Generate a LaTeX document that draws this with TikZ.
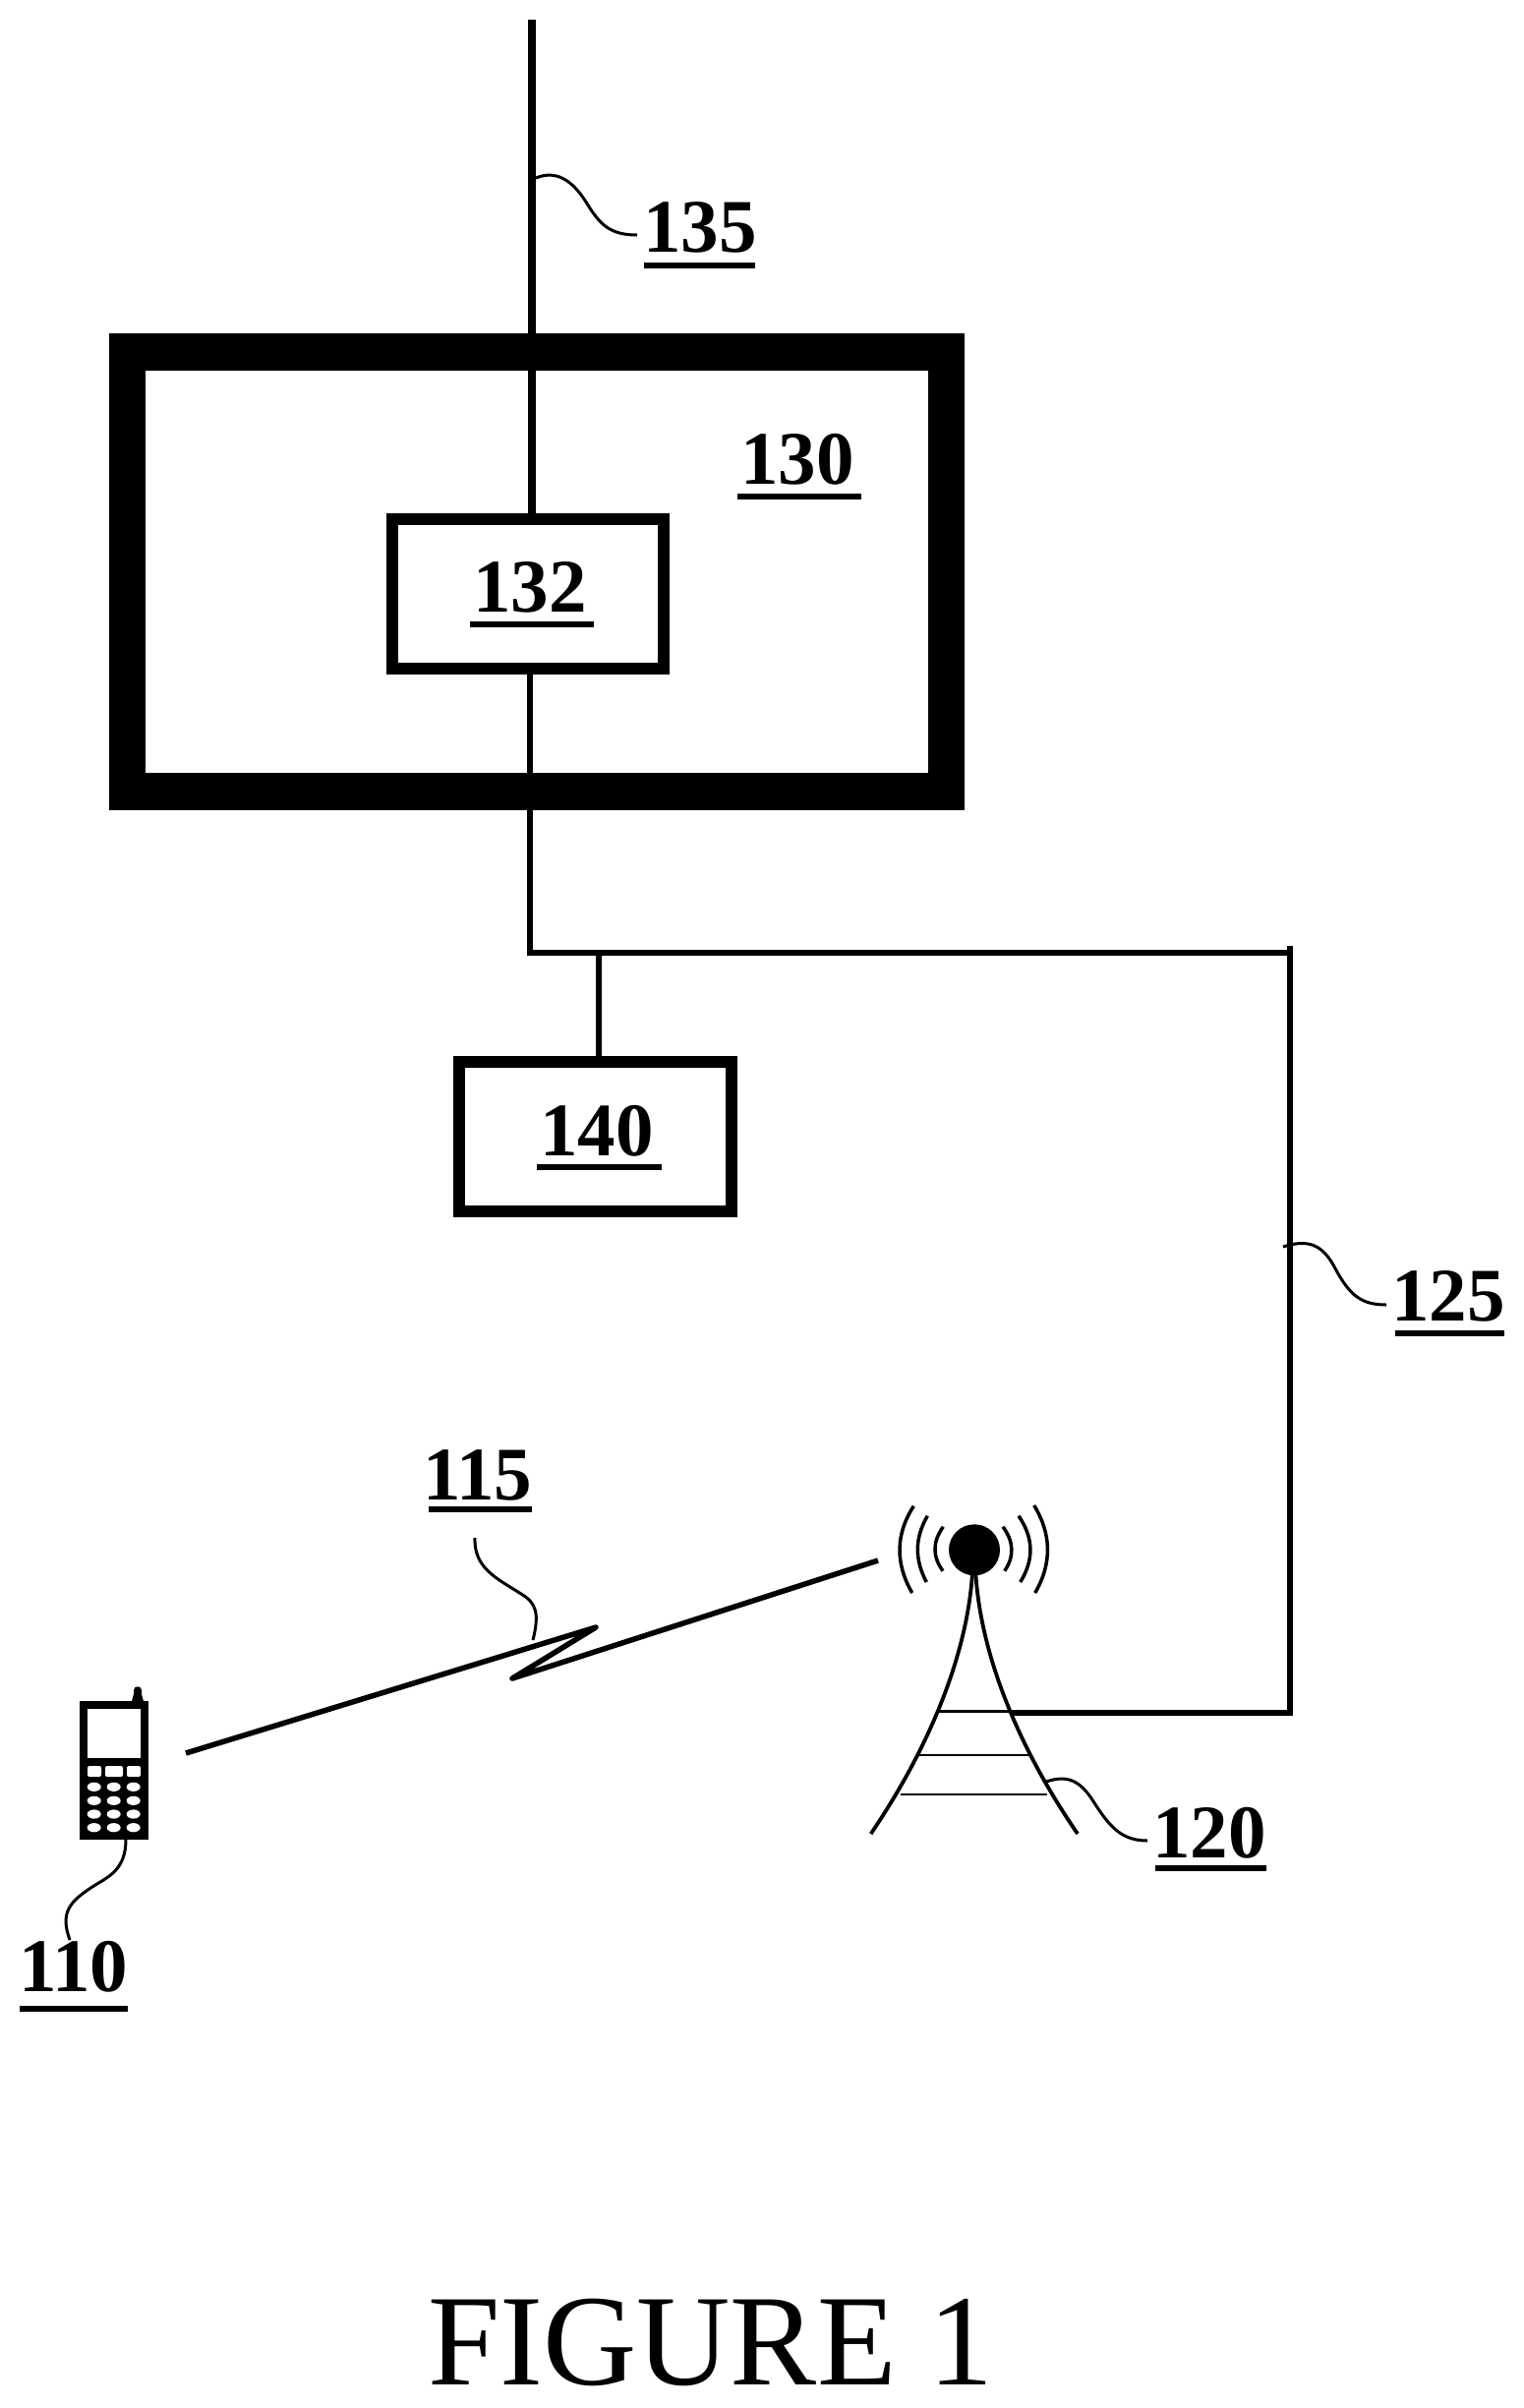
\documentclass[tikz,border=0pt]{standalone}
\usepackage{fontspec}
\setmainfont{Liberation Serif}
\newcommand{\reflab}[4]{\leavevmode\rlap{\hspace{#1}\rule[#2]{#3}{3pt}}#4}
\tikzset{
  boxnode/.style={draw=black,fill=none,rectangle,inner sep=0pt,outer sep=0pt},
  reflabel/.style={anchor=base west,inner sep=0pt,outer sep=0pt,text=black,font=\fontsize{38.5pt}{46pt}\selectfont\bfseries},
  figlabel/.style={anchor=base west,inner sep=0pt,outer sep=0pt,text=black,font=\fontsize{66pt}{78pt}\selectfont},
  wire/.style={draw=black,line width=3pt,line cap=butt,line join=miter},
  trunk/.style={draw=black,line width=3.75pt,line cap=butt},
  radio/.style={draw=black,line width=2.75pt,line join=round,line cap=butt},
  leader/.style={draw=black,line width=1.5pt,line cap=butt},
  towerleg/.style={draw=black,line width=1.9pt,line cap=butt},
  towerbar/.style={draw=black,line width=1.25pt,line cap=butt},
  wave/.style={draw=black,line width=1.75pt,line cap=butt},
  keypad/.style={fill=white,draw=none}
}
\begin{document}
\begin{tikzpicture}[x=0.5pt,y=-0.5pt]
\useasboundingbox[fill=white] (0,0) rectangle (1550,2449);

% boxes
\node[boxnode,line width=18.75pt,minimum width=416.5pt,minimum height=223.5pt] (b130) at (546,581.5) {};
\node[boxnode,line width=6pt,minimum width=138pt,minimum height=76pt] (b132) at (537,604) {};
\node[boxnode,line width=6pt,minimum width=138.5pt,minimum height=76pt] (b140) at (605.5,1156) {};

% named points
\coordinate (top) at (541,20);
\coordinate (J) at (539,969);
\coordinate (T) at (609,969);
\coordinate (R) at (1312,969);
\coordinate (Rup) at (1312,962);
\coordinate (Rdn) at (1312,1742);
\coordinate (towerjoin) at (1028,1742);

% wires
\draw[trunk] (top) -- (top |- b132.north);
\draw[wire] (J |- b132.south) -- (J) -- (R);
\draw[wire] (T) -- (T |- b140.north);
\draw[wire] (Rup) -- (Rdn) -- (towerjoin);

% phone
\node[fill=black,draw=none,rectangle,inner sep=0pt,outer sep=0pt,minimum width=35pt,minimum height=70.5pt] (phone) at (116,1800.5) {};
\fill[black] (134,1730) -- (136,1723) -- (136,1719) .. controls (136,1714) and (144,1714) .. (144,1719) -- (144,1723) -- (146,1730) -- cycle;
\fill[white] (89,1738) rectangle (143.3,1788);
\fill[keypad,rounded corners=1pt] (89,1796) rectangle (103,1807);
\fill[keypad,rounded corners=1pt] (107,1796) rectangle (125,1807);
\fill[keypad,rounded corners=1pt] (129,1796) rectangle (143,1807);
\foreach \kx in {95.7,115.7,135.7}
  \foreach \ky in {1817.3,1831.3,1845,1858.7}
    \fill[keypad] (\kx,\ky) ellipse [x radius=7,y radius=4.6];

% tower
\node[circle,fill=black,draw=none,inner sep=0pt,outer sep=0pt,minimum size=26pt] (ant) at (991,1576.3) {};
\draw[towerleg] (989,1600) .. controls (983,1690) and (940,1785) .. (885.7,1865);
\draw[towerleg] (992.3,1600) .. controls (998,1690) and (1041,1785) .. (1096,1865);
\draw[towerbar] (955,1740.7) -- (1028,1740.7);
\draw[towerbar] (935,1785) -- (1047,1785);
\draw[towerbar] (916,1825) -- (1065,1825);
\draw[wave] (959.3,1552.7) .. controls (948.3,1568) and (948.2,1583) .. (959,1597.7);
\draw[wave] (943.3,1541.7) .. controls (930.3,1564) and (930,1586) .. (942.3,1609);
\draw[wave] (929.3,1531.7) .. controls (910.8,1560) and (910.3,1590) .. (927.7,1620);
\draw[wave] (1020,1552.7) .. controls (1031.3,1568) and (1031.7,1583) .. (1021.7,1597.7);
\draw[wave] (1036,1541.7) .. controls (1051.3,1564) and (1051.9,1586) .. (1037.7,1609);
\draw[wave] (1051.7,1531) .. controls (1069.5,1560) and (1070.2,1590) .. (1052.7,1620);

% radio link
\coordinate (rA) at (189,1783);
\coordinate (rB) at (606,1655);
\coordinate (rC) at (521,1707);
\coordinate (rD) at (893,1587);
\draw[radio] (rA) -- (rB) -- (rC) -- (rD);

% labels
\node[reflabel] (l135) at (654,256) {\reflab{0.5pt}{-8.5pt}{56.5pt}{135}};
\node[reflabel] (l130) at (753,492) {\reflab{-1.5pt}{-8pt}{63pt}{130}};
\node[reflabel] (l132) at (481,622) {\reflab{-1.5pt}{-8pt}{63pt}{132}};
\node[reflabel] (l140) at (549,1175) {\reflab{-1.5pt}{-7.5pt}{63.5pt}{140}};
\node[reflabel] (l125) at (1415,1343) {\reflab{2pt}{-8pt}{55.5pt}{125}};
\node[reflabel] (l120) at (1172,1889) {\reflab{1.5pt}{-7pt}{56.5pt}{120}};
\node[reflabel] (l115) at (430,1525) {\reflab{3pt}{-6.5pt}{52.5pt}{115}};
\node[reflabel] (l110) at (19,2025) {\reflab{0.5pt}{-10.5pt}{55pt}{110}};
\node[figlabel] (fig) at (435,2425) {FIGURE 1};

% leaders
\coordinate (a135) at (545,181);
\coordinate (e135) at (648,239);
\draw[leader] (a135) .. controls (560,175) and (578,176) .. (597,207) .. controls (610,228) and (620,239) .. (e135);
\coordinate (a125) at (1305,1268);
\coordinate (e125) at (1410,1327);
\draw[leader] (a125) .. controls (1330,1260) and (1345,1265) .. (1358,1290) .. controls (1373,1318) and (1385,1327) .. (e125);
\coordinate (a120) at (1064,1812);
\coordinate (e120) at (1167,1872);
\draw[leader] (a120) .. controls (1085,1805) and (1098,1810) .. (1112,1832) .. controls (1128,1857) and (1140,1872) .. (e120);
\coordinate (a115) at (542,1668);
\coordinate (e115) at (483,1564);
\draw[leader] (a115) .. controls (549,1640) and (545,1630) .. (530,1621) .. controls (505,1605) and (482,1595) .. (e115);
\coordinate (a110) at (128,1871);
\coordinate (e110) at (71,1973);
\draw[leader] (a110) .. controls (128,1900) and (112,1908) .. (97,1917) .. controls (70,1934) and (61,1945) .. (e110);
\end{tikzpicture}
\end{document}
